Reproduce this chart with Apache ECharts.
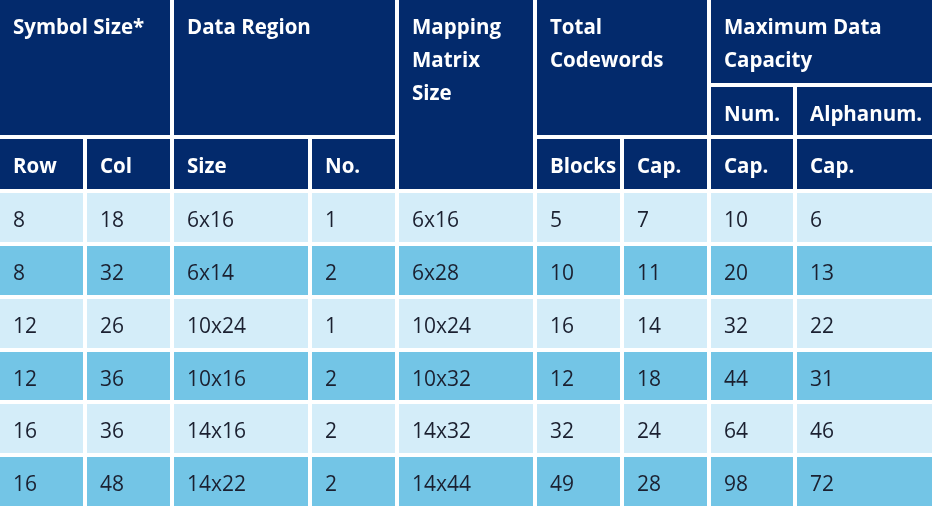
<!DOCTYPE html>
<html>
<head>
<meta charset="utf-8">
<script src="https://cdn.jsdelivr.net/npm/echarts@6/dist/echarts.min.js"></script>
<style>
  html, body { margin: 0; padding: 0; background: #fff; }
  #chart { width: 932px; height: 506px; }
</style>
</head>
<body>
<div id="chart"></div>
<script>
// table values
const symRow = [8, 8, 12, 12, 16, 16];
const symCol = [18, 32, 26, 36, 36, 48];
const regionSize = ["6x16", "6x14", "10x24", "10x16", "14x16", "14x22"];
const regionNo = [1, 2, 1, 2, 2, 2];
const matrixSize = ["6x16", "6x28", "10x24", "10x32", "14x32", "14x44"];
const blocks = [5, 10, 16, 12, 32, 49];
const codeCap = [7, 11, 14, 18, 24, 28];
const numCap = [10, 20, 32, 44, 64, 98];
const alnumCap = [6, 13, 22, 31, 46, 72];

// header cells: [text, col0, col1, row0, row1]
const headers = [
  ["Symbol Size*", 0, 2, 0, 2],
  ["Data Region", 2, 4, 0, 2],
  ["Mapping\nMatrix\nSize", 4, 5, 0, 3],
  ["Total\nCodewords", 5, 7, 0, 2],
  ["Maximum Data\nCapacity", 7, 9, 0, 1],
  ["Num.", 7, 8, 1, 2],
  ["Alphanum.", 8, 9, 1, 2],
  ["Row", 0, 1, 2, 3],
  ["Col", 1, 2, 2, 3],
  ["Size", 2, 3, 2, 3],
  ["No.", 3, 4, 2, 3],
  ["Blocks", 5, 6, 2, 3],
  ["Cap.", 6, 7, 2, 3],
  ["Cap.", 7, 8, 2, 3],
  ["Cap.", 8, 9, 2, 3]
];

// grid lines of the table, in axis units
const colEdges = [-2, 85, 172, 310, 397, 535, 622, 709, 795, 934];
const rowEdges = [-2, 85, 137, 191, 244, 297, 350, 402, 455, 508];

const NAVY = "#032a6c";
const LIGHT = "#d4edf9";
const MID = "#73c5e6";
const INK = "#1b2030";

const cells = [];
headers.forEach(h => cells.push({ text: h[0], c0: h[1], c1: h[2], r0: h[3], r1: h[4], head: true }));
const columns = [symRow, symCol, regionSize, regionNo, matrixSize, blocks, codeCap, numCap, alnumCap];
for (let i = 0; i < symRow.length; i++) {
  columns.forEach((col, j) => {
    cells.push({ text: String(col[i]), c0: j, c1: j + 1, r0: 3 + i, r1: 4 + i, head: false, odd: i % 2 === 1 });
  });
}

const chart = echarts.init(document.getElementById("chart"));

function renderItem(params, api) {
  const c = cells[params.dataIndex];
  const p0 = api.coord([colEdges[api.value(0)], rowEdges[api.value(2)]]);
  const p1 = api.coord([colEdges[api.value(1)], rowEdges[api.value(3)]]);
  const x = p0[0] + 2, y = p0[1] + 2;
  const w = p1[0] - p0[0] - 4, h = p1[1] - p0[1] - 4;
  const fill = c.head ? NAVY : (c.odd ? MID : LIGHT);
  return {
    type: "group",
    children: [
      { type: "rect", shape: { x: x, y: y, width: w, height: h }, style: { fill: fill } },
      {
        type: "text",
        style: {
          text: c.text,
          x: x + 13,
          y: y + 11.5,
          align: "left",
          verticalAlign: "top",
          lineHeight: 33,
          fill: c.head ? "#ffffff" : INK,
          fontFamily: "Open Sans",
          fontWeight: c.head ? "bold" : "normal",
          fontSize: c.head ? 20.5 : 21
        }
      }
    ]
  };
}

chart.setOption({
  animation: false,
  grid: { left: 0, right: 0, top: 0, bottom: 0 },
  xAxis: { type: "value", min: 0, max: 932, show: false },
  yAxis: { type: "value", min: 0, max: 506, inverse: true, show: false },
  series: [{
    type: "custom",
    coordinateSystem: "cartesian2d",
    clip: false,
    renderItem: renderItem,
    data: cells.map(c => [c.c0, c.c1, c.r0, c.r1])
  }]
});
</script>
</body>
</html>
